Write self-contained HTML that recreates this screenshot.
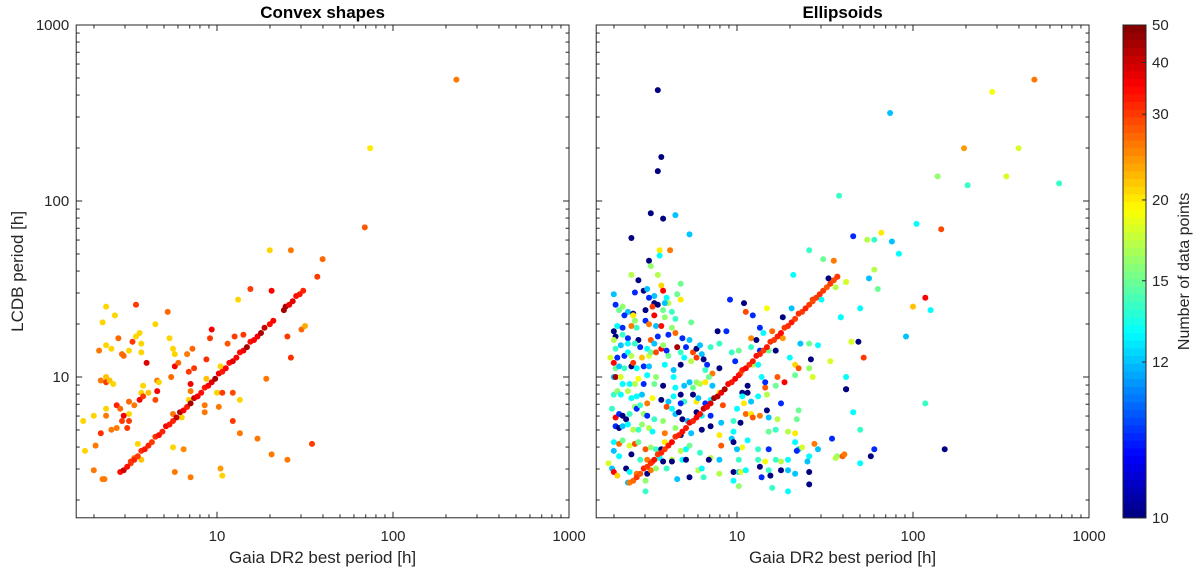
<!DOCTYPE html>
<html><head><meta charset="utf-8"><style>
html,body{margin:0;padding:0;background:#fff;}
svg{display:block;font-family:"Liberation Sans",sans-serif;}
</style></head><body>
<svg id="chart" width="1200" height="571" viewBox="0 0 1200 571" xmlns="http://www.w3.org/2000/svg">
<g id="root"></g>
</svg>
<script>
// ---------- data (log10 of period in hours) ----------
const xTickValues = [10, 100, 1000];
const yTickValues = [10, 100, 1000];
const cbarTickValues = [10, 12, 15, 20, 30, 40, 50];
const cbarTickFrac = [1, 0.684, 0.519, 0.355, 0.181, 0.076, 0];

const convexGaia = [1.84,1.30,1.42,1.60,1.57,1.19,1.31,.37,.54,.42,
.72,1.12,.35,.65,.56,.44,.52,.54,.57,.73,
.97,.96,1.06,1.10,1.15,1.40,1.48,1.50,.33,.37,
.40,.50,.57,.46,.47,.75,.76,.83,.86,.60,
.76,.78,.87,.84,.94,1.02,1.42,.37,.34,.37,
.39,.41,.66,.67,.74,.58,.85,.85,.94,1.28,
.57,.61,.66,.65,.56,.58,1.00,1.03,1.09,1.13,
.84,.43,.45,.37,.50,.53,.30,.37,.50,.47,
.46,.50,.93,1.01,.93,.75,.80,1.09,.34,.40,
.43,.49,1.13,1.23,1.54,.31,.55,.75,.81,.57,
.53,.51,1.31,1.40,.30,.35,.36,.76,.85,1.02,
1.03,2.36,1.87,.25,.24];
const convexLcdb = [1.85,1.72,1.72,1.67,1.57,1.50,1.49,1.40,1.41,1.35,
1.37,1.44,1.31,1.30,1.25,1.22,1.20,1.23,1.19,1.22,
1.27,1.22,1.19,1.23,1.24,1.23,1.27,1.29,1.15,1.18,
1.16,1.15,1.14,1.13,1.12,1.16,1.13,1.13,1.16,1.08,
1.06,1.08,1.05,1.03,1.10,1.06,1.11,1.00,.98,.97,
.98,.96,.98,.97,1.00,.95,.96,.92,.99,.99,
.91,.91,.92,.87,.87,.89,.91,.91,.91,.87,
.87,.84,.82,.82,.86,.84,.78,.78,.79,.78,
.75,.75,.84,.83,.80,.79,.77,.75,.68,.70,
.71,.71,.68,.65,.62,.61,.62,.60,.59,.53,
.54,.51,.56,.53,.47,.42,.42,.46,.43,.48,
.44,2.69,2.30,.58,.75];
const convexN = [28,21,26,27,30,30,35,21,30,21,
27,21,21,21,21,27,30,21,21,21,
36,30,28,30,30,30,27,23,26,21,
21,21,21,27,27,21,21,26,27,38,
36,27,30,30,31,21,31,22,26,30,
22,21,26,21,27,21,36,26,22,26,
21,22,35,29,36,30,21,30,29,21,
21,32,27,21,27,26,21,26,21,36,
30,30,26,26,26,26,21,30,31,26,
26,30,26,26,30,26,21,21,25,22,
26,30,26,26,26,26,26,26,26,24,
21,26,20,21,21];

const convexDiagGaia = [.45,.47,.49,.51,.53,.55,.57,.59,.61,.63,.65,.67,.69,.71,.73,.75,.77,.79,.81,.83,.85,.87,.89,.91,.93,.95,.97,.99,1.01,1.03,1.05,1.07,1.09,1.11,1.13,1.15,1.17,1.19,1.21,1.23,1.25,1.27,1.30,1.32,1.38,1.39,1.41,1.43,1.45,1.47,1.49];
const convexDiagLcdb = [.46,.47,.49,.52,.53,.55,.58,.59,.61,.63,.66,.67,.69,.72,.73,.75,.77,.80,.81,.83,.85,.88,.89,.91,.94,.95,.97,.99,1.02,1.03,1.05,1.08,1.09,1.11,1.14,1.15,1.17,1.20,1.21,1.23,1.25,1.28,1.30,1.32,1.38,1.40,1.41,1.43,1.46,1.47,1.49];
const convexDiagN = [34,40,34,30,32,30,31,33,32,30,31,34,32,35,33,32,40,44,35,33,45,40,36,34,33,35,38,45,36,33,35,34,38,35,34,36,45,34,35,36,44,40,34,35,45,44,36,38,34,33,32];

const ellGaia = [.56,.62,.56,1.41,1.49,1.55,.50,.51,.55,.40,
1.32,.44,.57,.68,1.52,1.57,1.62,1.56,.30,.42,
.47,.49,.53,.58,.50,.60,.66,.61,.59,.53,
.68,.31,.35,.33,.38,.36,.41,.41,.42,.48,
.52,.55,.53,.58,.59,.63,.65,.96,1.04,1.05,
1.09,1.17,1.26,1.31,1.43,1.48,1.59,.30,.32,.35,
.40,.43,.48,.50,.54,.57,.61,.63,.65,.55,
.51,.44,.38,.35,.31,.74,.89,.94,1.08,1.11,
1.13,1.15,1.20,1.26,1.22,.30,.31,.34,.38,.42,
.45,.49,.53,.57,.58,.60,.69,.73,.71,.75,
.77,.79,.85,.90,.97,1.01,1.08,1.13,1.18,1.30,
1.36,1.41,1.46,1.65,.28,.32,.36,.38,.40,.46,
.50,.51,.54,.61,.66,.68,.70,.77,.80,.81,
.74,.99,1.09,1.12,1.33,1.35,1.42,1.41,1.53,.30,
.31,.33,.36,.40,.41,.43,.47,.50,.54,.59,
.68,.64,.64,.83,.82,.86,.90,.84,1.02,1.14,
1.23,1.27,1.33,1.43,1.62,1.62,.30,.31,.34,.35,
.39,.42,.44,.47,.49,.53,.58,.65,.70,.73,
.75,.77,.79,.82,.86,.90,1.03,1.03,1.06,1.06,
1.16,1.16,1.22,1.17,.30,.32,.34,.38,.40,.43,
.46,.49,.52,.57,.61,.64,.68,.70,.75,.77,
.78,.82,.85,.92,1.00,1.04,1.08,1.12,1.25,.29,
.31,.33,.35,.37,.39,.42,.43,.45,.47,.49,
.53,.58,.60,.63,.65,.68,.67,.69,.72,.77,
.80,.85,.91,.98,1.02,1.05,1.08,1.09,1.13,1.17,
1.18,1.23,1.34,1.35,.31,.33,.35,.38,.41,.44,
.46,.50,.52,.59,.65,.68,.74,.80,.85,.90,
.97,.98,.98,1.03,1.06,1.18,1.22,1.29,1.33,1.33,
1.35,1.44,1.46,1.54,.30,.33,.35,.39,.42,.44,
.48,.51,.54,.57,.59,.63,.68,.71,.73,.79,
.85,.91,1.00,1.12,1.18,1.34,1.37,1.41,1.57,1.60,
.30,.33,.40,.45,.49,.52,.56,.58,.63,.69,
.71,.84,.90,1.01,1.12,1.16,1.22,1.25,1.29,1.40,
1.56,.27,.29,.30,.32,.37,.39,.43,.49,.51,
.54,.60,.66,.73,.78,.80,.81,.90,.98,1.01,
1.02,1.05,1.13,1.14,1.18,1.19,1.25,1.29,1.33,1.41,
.38,.48,.48,.98,1.01,1.20,1.29,1.41,.55,1.87,
2.45,2.69,.57,.55,2.29,2.60,2.14,2.53,2.31,2.83,
1.58,.51,.58,.65,.40,.73,2.02,2.16,1.66,1.74,
1.78,1.82,1.88,1.92,1.78,1.62,1.75,1.80,2.07,2.00,
2.10,1.70,1.59,1.96,1.65,1.69,1.72,1.62,1.62,2.07,
1.66,1.70,1.78,1.76,2.18,1.70,1.61];
const ellLcdb = [1.72,1.72,1.69,1.72,1.67,1.66,1.66,1.63,1.58,1.58,
1.58,1.55,1.52,1.53,1.56,1.57,1.54,1.51,1.47,1.48,
1.49,1.50,1.46,1.49,1.45,1.45,1.47,1.42,1.42,1.42,
1.44,1.41,1.40,1.38,1.37,1.35,1.36,1.35,1.32,1.38,
1.40,1.41,1.35,1.38,1.34,1.37,1.33,1.44,1.42,1.37,
1.35,1.39,1.34,1.39,1.44,1.44,1.34,1.26,1.29,1.28,
1.29,1.28,1.32,1.30,1.29,1.29,1.24,1.28,1.25,1.23,
1.21,1.21,1.22,1.24,1.23,1.31,1.26,1.26,1.22,1.21,
1.28,1.25,1.26,1.22,1.15,1.21,1.16,1.18,1.19,1.19,
1.17,1.16,1.19,1.16,1.18,1.15,1.22,1.21,1.17,1.14,
1.16,1.18,1.17,1.19,1.14,1.15,1.17,1.15,1.15,1.11,
1.19,1.19,1.18,1.20,1.11,1.11,1.12,1.14,1.12,1.11,
1.12,1.14,1.14,1.12,1.17,1.14,1.11,1.11,1.13,1.10,
1.09,1.09,1.07,1.07,1.07,1.05,1.10,1.05,1.09,1.08,
1.05,1.06,1.05,1.06,1.08,1.05,1.06,1.06,1.00,1.07,
1.07,1.00,1.04,1.07,1.04,1.02,1.05,1.00,1.02,1.00,
1.00,.97,1.01,1.00,1.00,.93,1.00,1.00,1.00,.96,
.96,.96,.99,.96,1.01,.96,.95,.94,.95,.97,
.94,.97,.96,.97,.95,.91,.91,.89,.95,.91,
.94,.97,.95,.90,.90,.92,.90,.92,.88,.89,
.90,.85,.88,.87,.86,.89,.90,.86,.90,.86,
.88,.85,.87,.84,.82,.85,.86,.89,.85,.82,
.77,.79,.78,.76,.79,.83,.82,.84,.79,.78,
.76,.75,.83,.82,.79,.85,.80,.76,.75,.80,
.78,.78,.74,.75,.74,.79,.79,.77,.78,.81,
.77,.76,.76,.81,.72,.71,.72,.73,.70,.70,
.73,.71,.69,.68,.71,.67,.68,.70,.72,.67,
.65,.63,.69,.60,.64,.69,.70,.69,.68,.63,
.59,.62,.59,.65,.63,.62,.64,.61,.62,.63,
.59,.60,.59,.59,.63,.53,.58,.59,.61,.57,
.54,.61,.59,.59,.59,.58,.60,.55,.55,.55,
.58,.55,.56,.53,.53,.52,.54,.52,.52,.53,
.53,.53,.53,.53,.53,.52,.53,.52,.53,.52,
.54,.51,.48,.46,.44,.48,.46,.45,.45,.47,
.48,.48,.42,.43,.47,.48,.43,.45,.46,.46,
.46,.47,.49,.43,.47,.44,.47,.47,.45,.46,
.40,.41,.35,.41,.38,.37,.35,.39,2.63,2.50,
2.62,2.69,2.25,2.17,2.30,2.30,2.14,2.14,2.09,2.10,
2.03,1.93,1.90,1.92,1.79,1.81,1.87,1.84,1.80,1.78,
1.78,1.82,1.77,1.70,1.61,1.54,1.56,1.50,1.45,1.40,
1.38,1.39,1.34,1.23,1.20,1.20,1.11,1.00,.93,.85,
.80,.70,.59,.55,.59,.51,.56];
const ellN = [20,26,13,14,15,26,10,16,17,17,
13,10,21,15,10,29,18,17,12,11,
10,12,12,35,11,13,15,17,12,10,
20,11,16,15,12,11,10,20,16,10,
30,10,35,15,16,14,14,11,10,29,
11,19,10,12,31,13,13,10,13,11,
26,14,11,26,12,34,11,16,27,11,
28,10,11,14,10,15,10,11,25,10,
11,13,27,24,10,17,14,12,13,14,
11,13,12,35,16,11,11,12,11,29,
10,12,14,14,14,15,14,11,15,13,
12,15,13,19,18,11,11,13,17,22,
18,15,29,15,45,14,13,30,12,10,
17,11,17,13,21,28,10,16,18,35,
15,12,14,10,30,13,11,12,16,13,
10,13,12,11,14,26,10,15,27,13,
28,35,15,18,19,10,12,45,18,13,
13,17,19,11,13,15,10,13,12,12,
15,16,17,20,12,20,10,13,10,10,
28,11,15,17,14,16,13,17,13,13,
12,26,19,10,12,13,10,14,10,20,
12,11,13,29,13,20,12,13,11,14,
35,11,10,10,14,16,11,14,16,11,
14,16,29,13,12,11,10,10,12,10,
13,11,12,14,10,27,20,28,26,10,
12,17,15,15,11,10,12,13,17,14,
16,17,13,26,16,10,12,10,10,20,
12,10,13,19,13,15,14,17,20,13,
12,26,12,11,13,27,15,18,29,15,
28,16,14,10,20,17,17,13,15,14,
17,28,12,14,11,11,18,13,16,28,
12,13,10,14,26,29,13,10,10,13,
10,10,12,14,14,19,14,17,13,12,
17,18,12,35,21,10,13,26,10,26,
16,14,12,10,17,13,14,17,10,12,
18,13,10,11,14,10,10,12,12,10,
12,16,14,13,16,14,13,10,10,12,
19,26,10,10,24,18,16,18,14,14,
14,10,10,12,10,12,13,29,11,17,
14,20,12,13,17,18,12,15,35,22,
13,13,13,12,18,10,30,13,10,14,
13,14,11,10,10,13,26];

const ellDiagGaia = [.39,.41,.43,.45,.47,.49,.51,.53,.55,.57,.59,.61,.63,.65,.67,.69,.71,.73,.75,.77,.79,.81,.83,.85,.87,.89,.91,.93,.95,.97,.99,1.01,1.03,1.05,1.07,1.09,1.11,1.13,1.15,1.17,1.19,1.21,1.23,1.25,1.27,1.29,1.31,1.33,1.35,1.37,1.39,1.41,1.43,1.45,1.47,1.49,1.51,1.53,1.55,1.57];
const ellDiagLcdb = [.40,.41,.43,.45,.48,.49,.51,.53,.56,.57,.59,.61,.63,.66,.67,.69,.71,.74,.75,.77,.79,.82,.83,.85,.88,.89,.91,.93,.96,.97,.99,1.01,1.04,1.05,1.07,1.09,1.12,1.13,1.15,1.17,1.20,1.21,1.23,1.25,1.28,1.29,1.31,1.33,1.36,1.37,1.39,1.41,1.43,1.45,1.47,1.49,1.51,1.53,1.55,1.57];
const ellDiagN = [26,27,30,28,32,30,31,34,30,32,30,33,35,31,32,34,33,36,32,35,34,40,36,38,45,42,36,44,35,33,36,34,32,35,31,33,34,32,30,33,31,30,32,34,30,31,33,30,31,30,32,30,29,30,31,30,28,30,29,30];

// ---------- layout ----------
const DEC = 176, LMIN = 0.2, LMAX = 3;
const TOP = 25, BOT = 25 + (LMAX - LMIN) * DEC;
const panels = [
  {left: 76.2, title: 'Convex shapes', name: 'convex'},
  {left: 596.2, title: 'Ellipsoids', name: 'ellipsoids'}
];
const CB = {x: 1123, w: 23, top: TOP, bot: BOT};
const NS = 'http://www.w3.org/2000/svg';
const root = document.getElementById('root');

function mk(tag, attrs, parent) {
  const e = document.createElementNS(NS, tag);
  for (const k in attrs) e.setAttribute(k, attrs[k]);
  (parent || root).appendChild(e);
  return e;
}
function xScale(p, l) { return p.left + (l - LMIN) * DEC; }
function yScale(l) { return BOT - (l - LMIN) * DEC; }
function jet(v) {
  const c = t => Math.max(0, Math.min(1, t));
  const r = c(1.5 - Math.abs(4 * v - 3)), g = c(1.5 - Math.abs(4 * v - 2)), b = c(1.5 - Math.abs(4 * v - 1));
  return 'rgb(' + Math.round(r * 255) + ',' + Math.round(g * 255) + ',' + Math.round(b * 255) + ')';
}
function fracOf(n) {
  for (let i = 0; i < cbarTickValues.length - 1; i++) {
    const a = cbarTickValues[i], b = cbarTickValues[i + 1];
    if (n <= b) {
      const t = Math.log(Math.max(n, a) / a) / Math.log(b / a);
      return cbarTickFrac[i] + t * (cbarTickFrac[i + 1] - cbarTickFrac[i]);
    }
  }
  return 0;
}
function colorOf(n) { return jet(1 - fracOf(n)); }

const W = (LMAX - LMIN) * DEC;
const ink = '#262626';

panels.forEach((p, pi) => {
  const g = mk('g', {});
  
  
  const t = mk('text', {x: p.left + W / 2, y: 18, 'text-anchor': 'middle', 'font-size': 17, 'font-weight': 'bold', fill: '#000'}, g);
  t.textContent = p.title;
  
  
  const pts = mk('g', {}, g);
  
  
  const sets = pi === 0 ? [[convexGaia, convexLcdb, convexN], [convexDiagGaia, convexDiagLcdb, convexDiagN]]
                        : [[ellGaia, ellLcdb, ellN], [ellDiagGaia, ellDiagLcdb, ellDiagN]];
  sets.forEach(([xs, ys, ns]) => {
    for (let i = 0; i < xs.length; i++) {
      const c = mk('circle', {cx: xScale(p, xs[i]).toFixed(1), cy: yScale(ys[i]).toFixed(1), r: 3, fill: colorOf(ns[i])}, pts);
      
      
    }
  });
  const fr = mk('rect', {x: p.left, y: TOP, width: W, height: BOT - TOP, fill: 'none', stroke: ink, 'stroke-width': 1}, g);
  
  
  const tk = mk('g', {stroke: ink, 'stroke-width': 1}, g);
  
  
  for (let d = 0; d <= 3; d++) {
    for (let m = 1; m <= 9; m++) {
      const l = d + Math.log10(m);
      if (l < LMIN - 1e-6 || l > LMAX + 1e-6) continue;
      const len = m === 1 ? 6 : 3.5;
      const x = xScale(p, l), y = yScale(l);
      mk('line', {x1: x, y1: BOT, x2: x, y2: BOT - len}, tk);
      mk('line', {x1: x, y1: TOP, x2: x, y2: TOP + len}, tk);
      mk('line', {x1: p.left, y1: y, x2: p.left + len, y2: y}, tk);
      mk('line', {x1: p.left + W, y1: y, x2: p.left + W - len, y2: y}, tk);
    }
  }
  xTickValues.forEach(v => {
    const tl = mk('text', {x: xScale(p, Math.log10(v)), y: 541, 'text-anchor': 'middle', 'font-size': 15, fill: ink}, g);
    tl.textContent = v;
    
    
  });
  if (pi === 0) {
    yTickValues.forEach(v => {
      const tl = mk('text', {x: p.left - 7, y: yScale(Math.log10(v)) + 5, 'text-anchor': 'end', 'font-size': 15, fill: ink}, g);
      tl.textContent = v;
      
      
    });
    const yt = mk('text', {x: 0, y: 0, transform: 'translate(23,' + ((TOP + BOT) / 2) + ') rotate(-90)', 'text-anchor': 'middle', 'font-size': 17, fill: ink}, g);
    yt.textContent = 'LCDB period [h]';
    
    
  }
  const xt = mk('text', {x: p.left + W / 2, y: 563, 'text-anchor': 'middle', 'font-size': 17, fill: ink}, g);
  xt.textContent = 'Gaia DR2 best period [h]';
  
  
});

const cb = mk('g', {});


const NB = 64, H = CB.bot - CB.top;
for (let i = 0; i < NB; i++) {
  const v = 1 - (i + 0.5) / NB;
  mk('rect', {x: CB.x, y: (CB.top + i * H / NB).toFixed(2), width: CB.w, height: (H / NB + 0.6).toFixed(2), fill: jet(v)}, cb);
}
mk('rect', {x: CB.x, y: CB.top, width: CB.w, height: H, fill: 'none', stroke: ink, 'stroke-width': 1}, cb);
cbarTickValues.forEach((v, i) => {
  const y = CB.top + cbarTickFrac[i] * H;
  mk('line', {x1: CB.x + CB.w, y1: y, x2: CB.x + CB.w - 4, y2: y, stroke: ink}, cb);
  const tl = mk('text', {x: CB.x + CB.w + 6, y: y + 5, 'font-size': 15, fill: ink}, cb);
  tl.textContent = v;
  
  
});
const ct = mk('text', {x: 0, y: 0, transform: 'translate(1189,' + ((TOP + BOT) / 2) + ') rotate(-90)', 'text-anchor': 'middle', 'font-size': 16, fill: ink}, cb);
ct.textContent = 'Number of data points';


</script>
</body></html>
